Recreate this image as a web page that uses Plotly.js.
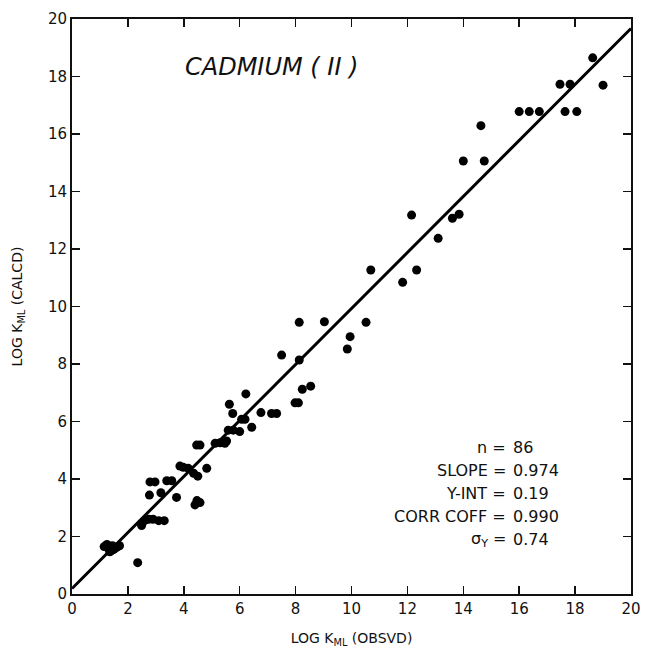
<!DOCTYPE html>
<html>
<head>
<meta charset="utf-8">
<script src="https://cdn.plot.ly/plotly-3.0.1.min.js"></script>
<style>html,body{margin:0;padding:0;background:#fff;}#chart{width:646px;height:656px;}</style>
</head>
<body>
<div id="chart"></div>
<script>
// Observed log K (x) and calculated log K (y)
const obsvd = [1.15,1.25,1.3,1.4,1.45,1.5,1.6,1.7,1.35,
  2.35,2.49,2.6,2.75,2.9,3.1,3.3,
  2.77,2.79,2.97,3.18,3.39,3.57,3.74,3.86,3.98,4.16,4.35,4.5,4.46,4.58,4.82,4.4,4.58,4.47,
  5.12,5.3,5.47,5.53,5.63,5.75,5.59,5.77,6.0,6.07,6.19,6.22,6.43,6.76,7.14,7.32,7.5,
  7.98,8.1,8.13,8.13,8.24,8.54,9.03,9.85,9.95,10.52,10.69,11.83,12.15,12.33,13.1,13.61,13.85,
  14.0,14.75,14.63,16.0,16.36,16.72,17.46,17.82,17.64,18.06,18.63,19.0];
const calcd = [1.65,1.72,1.58,1.5,1.68,1.55,1.62,1.68,1.47,
  1.09,2.38,2.55,2.6,2.6,2.55,2.55,
  3.44,3.9,3.9,3.52,3.94,3.94,3.36,4.45,4.41,4.37,4.2,4.1,5.18,5.18,4.37,3.1,3.18,3.25,
  5.24,5.26,5.24,5.32,6.6,6.28,5.7,5.7,5.65,6.08,6.08,6.96,5.8,6.31,6.28,6.28,8.31,
  6.65,6.65,8.14,9.45,7.12,7.23,9.47,8.52,8.95,9.45,11.27,10.84,13.18,11.27,12.37,13.07,13.21,
  15.06,15.06,16.29,16.78,16.78,16.78,17.73,17.73,16.78,16.78,18.65,17.7];
const slope = 0.974, yint = 0.19;
const fitX = [0, 20];
const fitY = fitX.map(v => slope * v + yint);
const tickVals = [0,2,4,6,8,10,12,14,16,18,20];
const statLabels = ["n", "SLOPE", "Y-INT", "CORR COFF", "σ<sub>Y</sub>"];
const statValues = ["86", "0.974", "0.19", "0.990", "0.74"];
const statRows = [5.11, 4.28, 3.48, 2.71, 1.91];

const font = "DejaVu Sans, Arial, sans-serif";
const annotations = [];
statLabels.forEach((lab, i) => {
  annotations.push({x: 15.6, y: statRows[i], xref: 'x', yref: 'y', text: lab + " =",
    xanchor: 'right', yanchor: 'middle', showarrow: false, font: {family: font, size: 16, color: '#111'}});
  annotations.push({x: 15.72, y: statRows[i], xref: 'x', yref: 'y', text: statValues[i],
    xanchor: 'left', yanchor: 'middle', showarrow: false, font: {family: font, size: 16, color: '#111'}});
});
annotations.push({x: 7.12, y: 18.33, xref: 'x', yref: 'y', text: "CADMIUM ( II )", showarrow: false,
  xanchor: 'center', yanchor: 'middle', font: {family: font, size: 24, color: '#111', style: 'italic'}});

const axisCommon = {
  range: [0, 20], tickvals: tickVals, ticks: 'inside', ticklen: 8, tickwidth: 1.5, tickcolor: '#111',
  showline: true, linecolor: '#111', linewidth: 2, mirror: 'ticks', showgrid: false, zeroline: false,
  tickfont: {family: font, size: 15, color: '#111'}
};

Plotly.newPlot('chart', [
  {x: fitX, y: fitY, mode: 'lines', line: {color: '#000', width: 3}, hoverinfo: 'skip'},
  {x: obsvd, y: calcd, mode: 'markers', marker: {color: '#000', size: 9}}
], {
  width: 646, height: 656,
  margin: {l: 72, r: 15, t: 19, b: 62},
  paper_bgcolor: '#fff', plot_bgcolor: '#fff',
  showlegend: false,
  xaxis: Object.assign({}, axisCommon, {title: {text: "LOG K<sub>ML</sub> (OBSVD)", font: {family: font, size: 14, color: '#111'}, standoff: 16}}),
  yaxis: Object.assign({}, axisCommon, {title: {text: "LOG K<sub>ML</sub> (CALCD)", font: {family: font, size: 14, color: '#111'}, standoff: 22}}),
  annotations: annotations
}, {staticPlot: true});
</script>
</body>
</html>
